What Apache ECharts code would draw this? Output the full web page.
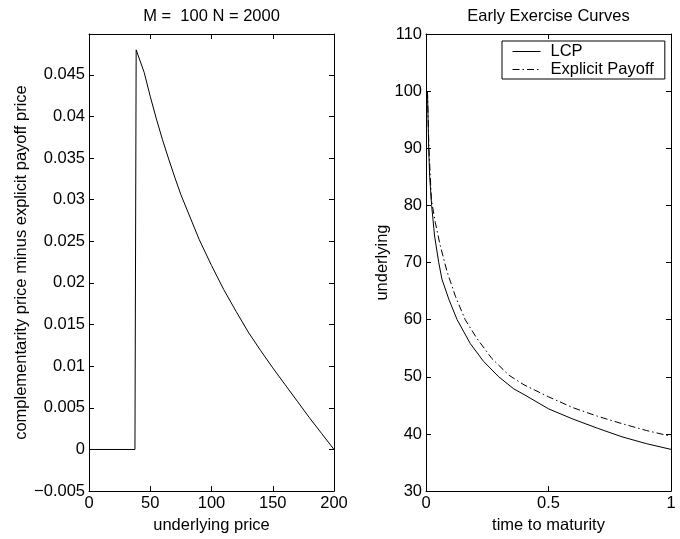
<!DOCTYPE html>
<html><head><meta charset="utf-8">
<script src="https://cdn.jsdelivr.net/npm/echarts@6/dist/echarts.min.js"></script>
<style>html,body{margin:0;padding:0;background:#fff}#c{width:680px;height:539px}</style>
</head><body><div id="c"></div>
<script>
// Left panel: complementarity price minus explicit payoff price
const priceX    = [0, 37.5, 38.5, 45, 50, 55, 60, 65, 70, 75, 80, 90, 100, 110, 120, 130, 140, 150, 160, 170, 180, 190, 200];
const priceDiff = [0, 0, 0.048, 0.0453, 0.0424, 0.0397, 0.0372, 0.0349, 0.0327, 0.0306, 0.0288, 0.0252, 0.0221, 0.0192, 0.0166, 0.0141, 0.0119, 0.0098, 0.0078, 0.0058, 0.0038, 0.0019, 0];
// Right panel: early exercise curves
const lcpT = [0.006, 0.011, 0.015, 0.023, 0.035, 0.052, 0.065, 0.093, 0.127, 0.181, 0.235, 0.297, 0.358, 0.4, 0.5, 0.6, 0.7, 0.8, 0.9, 1.0];
const lcpS = [100, 90, 85, 80, 74.65, 70, 67.1, 63.6, 60, 55.8, 52.7, 50.0, 47.9, 46.9, 44.4, 42.6, 41.0, 39.5, 38.3, 37.3];
const expT = [0.006, 0.012, 0.022, 0.038, 0.058, 0.086, 0.12, 0.16, 0.208, 0.269, 0.338, 0.4, 0.5, 0.6, 0.7, 0.8, 0.9, 1.0];
const expS = [100, 90, 81, 77, 73, 68.4, 64.1, 60, 56.7, 53.2, 50.3, 48.6, 46.5, 44.6, 43.1, 41.8, 40.6, 39.6];
// Tick values
const leftXTicks  = [0, 50, 100, 150, 200];
const leftYTicks  = [-0.005, 0, 0.005, 0.01, 0.015, 0.02, 0.025, 0.03, 0.035, 0.04, 0.045];
const rightXTicks = [0, 0.5, 1];
const rightYTicks = [30, 40, 50, 60, 70, 80, 90, 100, 110];
const titles = ['M =  100 N = 2000', 'Early Exercise Curves'];
const seriesNames = ['LCP', 'Explicit Payoff'];

const FONT = "'Liberation Sans', Arial, Helvetica, sans-serif";
const FS = 16.5;
const black = '#000';
const fmtNum = v => String(+v.toFixed(6)).replace('-', '\u2212');

function axisBase(extra) {
  return Object.assign({
    type: 'value',
    axisLine: { show: true, onZero: false, lineStyle: { color: black, width: 1 } },
    axisTick: { show: true, inside: true, length: 5, lineStyle: { color: black, width: 1 } },
    splitLine: { show: false },
    axisLabel: { show: true, color: black, fontFamily: FONT, fontSize: FS, margin: 4, formatter: fmtNum },
    nameTextStyle: { color: black, fontFamily: FONT, fontSize: FS },
    nameLocation: 'middle'
  }, extra);
}
function mirror(a, pos) {
  const m = Object.assign({}, a, { position: pos, name: '' });
  m.axisLabel = Object.assign({}, a.axisLabel, { show: false });
  return m;
}

const lx = axisBase({ gridIndex: 0, position: 'bottom', min: leftXTicks[0], max: leftXTicks[leftXTicks.length-1], interval: leftXTicks[1]-leftXTicks[0], name: 'underlying price', nameGap: 20 });
const ly = axisBase({ gridIndex: 0, position: 'left', min: leftYTicks[0], max: 0.0499, interval: 0.005, name: 'complementarity price minus explicit payoff price', nameGap: 58 });
ly.axisLabel = Object.assign({}, ly.axisLabel, { showMaxLabel: false });
const rx = axisBase({ gridIndex: 1, position: 'bottom', min: rightXTicks[0], max: rightXTicks[rightXTicks.length-1], interval: 0.5, name: 'time to maturity', nameGap: 20 });
const ry = axisBase({ gridIndex: 1, position: 'left', min: rightYTicks[0], max: rightYTicks[rightYTicks.length-1], interval: 10, name: 'underlying', nameGap: 33 });

const chart = echarts.init(document.getElementById('c'), null, { renderer: 'canvas' });
chart.setOption({
  animation: false,
  backgroundColor: '#fff',
  title: [
    { text: titles[0], left: 211.5, top: 8, padding: 0, textAlign: 'center', textVerticalAlign: 'top', textStyle: { color: black, fontFamily: FONT, fontSize: FS, fontWeight: 'normal' } },
    { text: titles[1], left: 548.5, top: 8, padding: 0, textAlign: 'center', textVerticalAlign: 'top', textStyle: { color: black, fontFamily: FONT, fontSize: FS, fontWeight: 'normal' } }
  ],
  grid: [
    { left: 89, top: 34, width: 245, height: 459, containLabel: false },
    { left: 426, top: 34, width: 245, height: 459, containLabel: false }
  ],
  xAxis: [lx, mirror(lx, 'top'), rx, mirror(rx, 'top')],
  yAxis: [ly, mirror(ly, 'right'), ry, mirror(ry, 'right')],
  legend: {
    data: seriesNames,
    orient: 'vertical',
    left: 502, top: 41,
    padding: [2, 11, 1, 10],
    itemGap: 1,
    itemWidth: 28, itemHeight: 14,
    backgroundColor: '#fff',
    borderColor: black, borderWidth: 1,
    itemStyle: { opacity: 0 },
    lineStyle: { width: 1 },
    textStyle: { color: black, fontFamily: FONT, fontSize: FS, padding: [0, 0, 0, 5] }
  },
  series: [
    { type: 'line', name: 'diff', xAxisIndex: 0, yAxisIndex: 0, symbol: 'none', silent: true,
      lineStyle: { color: black, width: 1 }, itemStyle: { color: black },
      data: priceX.map((x, i) => [x, priceDiff[i]]) },
    { type: 'line', name: seriesNames[0], xAxisIndex: 2, yAxisIndex: 2, symbol: 'none',
      lineStyle: { color: black, width: 1 }, itemStyle: { color: black },
      data: lcpT.map((t, i) => [t, lcpS[i]]) },
    { type: 'line', name: seriesNames[1], xAxisIndex: 2, yAxisIndex: 2, symbol: 'none',
      lineStyle: { color: black, width: 1, type: [7, 3, 1.5, 3] }, itemStyle: { color: black },
      data: expT.map((t, i) => [t, expS[i]]) }
  ]
});
</script></body></html>
